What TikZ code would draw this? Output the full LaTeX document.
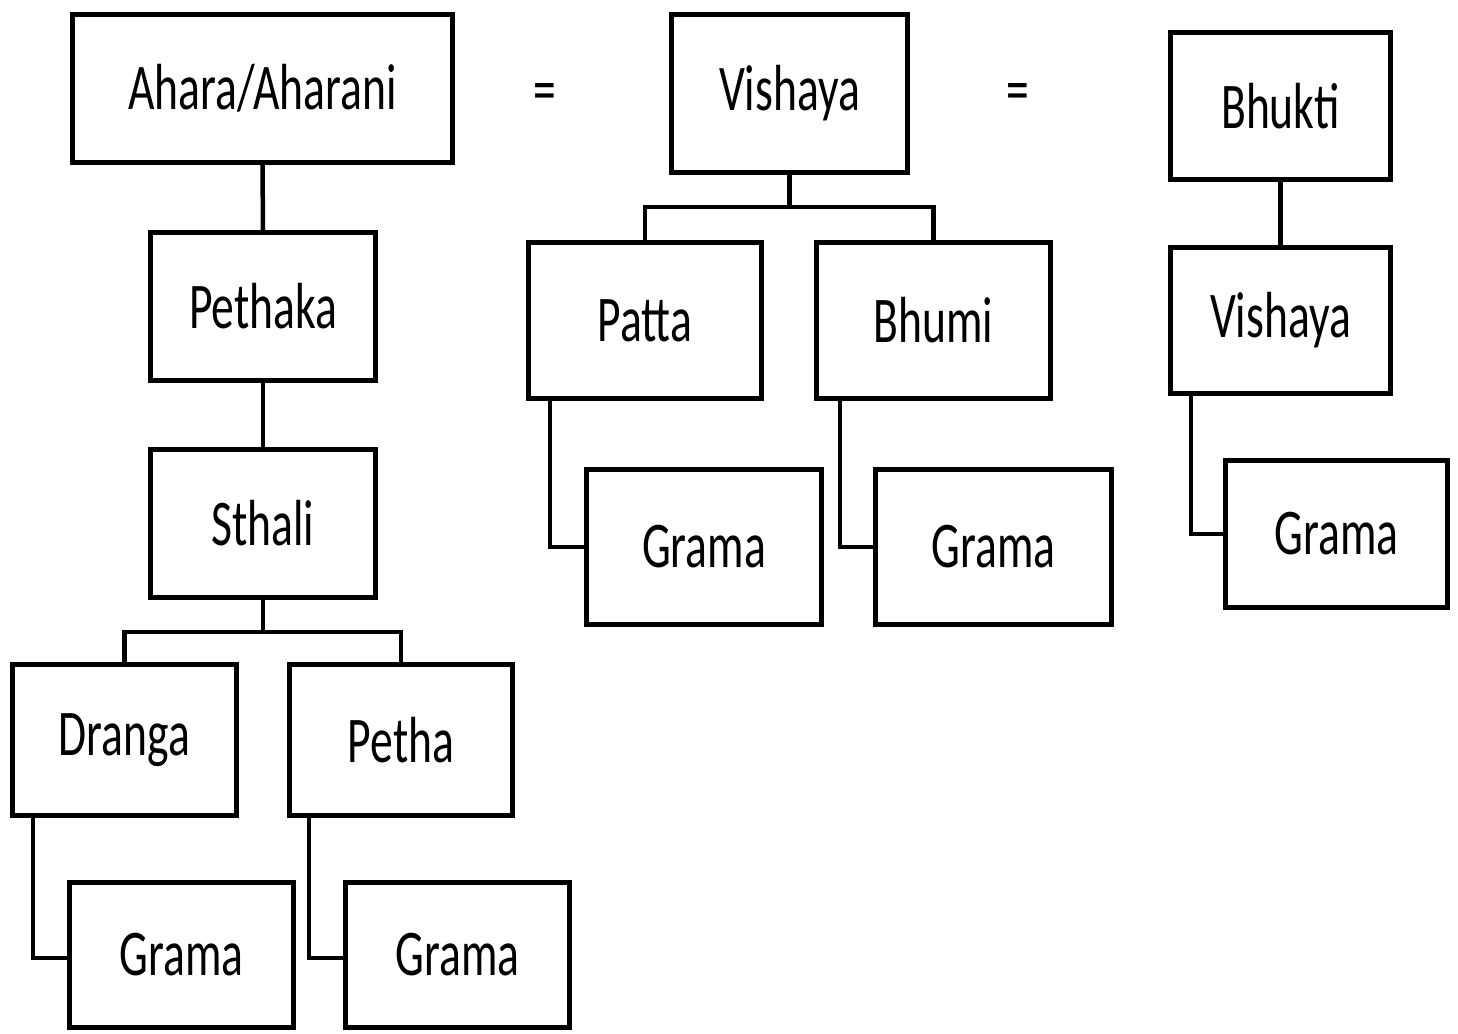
\documentclass[tikz,border=0pt]{standalone}
\usepackage{fontspec}
\setmainfont{Carlito}
\newcommand{\lbl}[1]{\scalebox{1}[1.43]{\fontsize{45.6}{50}\selectfont #1}}
\begin{document}
\begin{tikzpicture}[x=1pt,y=-1pt,
  box/.style={draw, line width=5pt, rectangle, inner sep=0pt},
  conn/.style={line width=4.5pt},
  eqsign/.style={inner sep=0pt}]
\useasboundingbox (0,0) rectangle (1458,1033);
\node[box, minimum width=380, minimum height=148] (ahara) at (262.5,88.5) {\lbl{Ahara/Aharani}};
\node[box, minimum width=225, minimum height=148] (pethaka) at (263,306.5) {\lbl{Pethaka}};
\node[box, minimum width=225, minimum height=148] (sthali) at (263,523.5) {\lbl{Sthali}};
\node[box, minimum width=224, minimum height=151] (dranga) at (124.5,740) {\lbl{Dranga}};
\node[box, minimum width=223, minimum height=151] (petha) at (401,740) {\lbl{Petha}};
\node[box, minimum width=224, minimum height=145] (gramaA) at (181.5,955) {\lbl{Grama}};
\node[box, minimum width=224, minimum height=145] (gramaB) at (457.5,955) {\lbl{Grama}};
\node[box, minimum width=236, minimum height=158] (vishayaA) at (789.5,93.5) {\lbl{Vishaya}};
\node[box, minimum width=233, minimum height=156] (patta) at (645,320.5) {\lbl{Patta}};
\node[box, minimum width=234, minimum height=156] (bhumi) at (933.5,320.5) {\lbl{Bhumi}};
\node[box, minimum width=235, minimum height=155] (gramaC) at (704,547) {\lbl{Grama}};
\node[box, minimum width=236, minimum height=155] (gramaD) at (993.5,547) {\lbl{Grama}};
\node[box, minimum width=220, minimum height=147] (bhukti) at (1280.5,106) {\lbl{Bhukti}};
\node[box, minimum width=220, minimum height=146] (vishayaB) at (1280.5,320.5) {\lbl{Vishaya}};
\node[box, minimum width=222, minimum height=147] (gramaE) at (1336.5,534) {\lbl{Grama}};
\node[eqsign] (eq1) at (545,98) {\lbl{=}};
\node[eqsign] (eq2) at (1018,98) {\lbl{=}};
% connectors
\draw[conn] (ahara.south) -- (pethaka.north);
\draw[conn] (pethaka.south) -- (sthali.north);
\draw[conn] (sthali.south) -- ++(0,32) coordinate (sj);
\draw[conn] (sj) -| (dranga.north);
\draw[conn] (sj) -| (petha.north);
\draw[conn] ([xshift=23pt]dranga.south west) |- ([yshift=-3pt]gramaA.west);
\draw[conn] ([xshift=22pt]petha.south west) |- ([yshift=-3pt]gramaB.west);
\draw[conn] (vishayaA.south) -- ++(0,32) coordinate (vj);
\draw[conn] (vj) -| (patta.north);
\draw[conn] (vj) -| (bhumi.north);
\draw[conn] ([xshift=24pt]patta.south west) |- (gramaC.west);
\draw[conn] ([xshift=26pt]bhumi.south west) |- (gramaD.west);
\draw[conn] (bhukti.south) -- (vishayaB.north);
\draw[conn] ([xshift=23pt]vishayaB.south west) |- (gramaE.west);
\end{tikzpicture}
\end{document}
